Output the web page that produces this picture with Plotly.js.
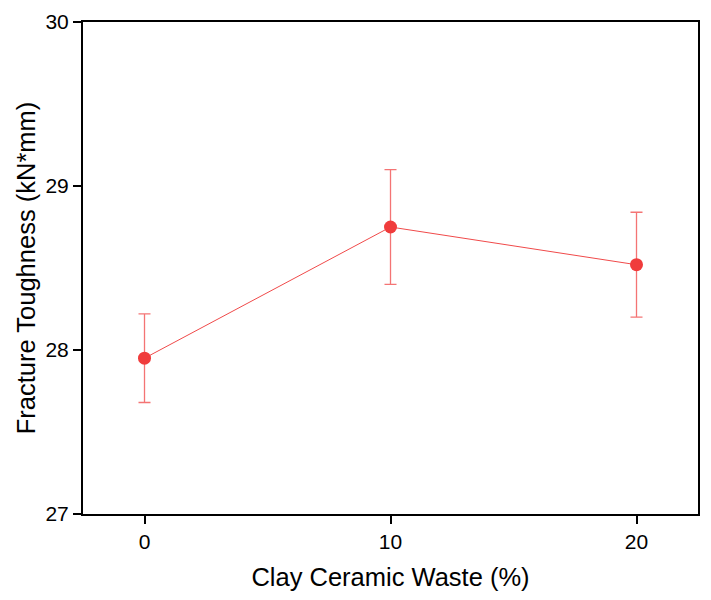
<!DOCTYPE html>
<html>
<head>
<meta charset="utf-8">
<script src="https://cdn.plot.ly/plotly-3.0.1.min.js"></script>
<style>
  html, body { margin: 0; padding: 0; background: #fff; }
  #chart { width: 711px; height: 600px; }
</style>
</head>
<body>
<div id="chart"></div>
<script>
// clay ceramic waste content (%)
const wasteContent = [0, 10, 20];
// fracture toughness (kN*mm), mean and error
const toughness = [27.95, 28.75, 28.52];
const toughnessErr = [0.27, 0.35, 0.32];

const xTicks = [0, 10, 20];
const yTicks = [27, 28, 29, 30];

const trace = {
  x: wasteContent,
  y: toughness,
  type: 'scatter',
  mode: 'lines+markers',
  line: { color: '#f04a4a', width: 1 },
  marker: { color: '#f03c3c', size: 13 },
  error_y: {
    type: 'data',
    array: toughnessErr,
    visible: true,
    color: 'rgba(240,70,70,0.75)',
    thickness: 1.3,
    width: 6
  },
  hoverinfo: 'x+y'
};

const fontFamily = 'Liberation Sans, Arial, sans-serif';
const tickFont = { family: fontFamily, size: 21, color: '#000' };
const titleFont = { family: fontFamily, size: 25.5, color: '#000' };

const layout = {
  width: 711,
  height: 600,
  margin: { l: 83, r: 13, t: 22, b: 86 },
  paper_bgcolor: '#fff',
  plot_bgcolor: '#fff',
  showlegend: false,
  font: tickFont,
  xaxis: {
    range: [-2.5, 22.5],
    tickvals: xTicks,
    ticktext: xTicks.map(String),
    ticks: 'outside',
    ticklen: 8,
    tickwidth: 1.5,
    tickcolor: '#000',
    showline: true,
    linecolor: '#000',
    linewidth: 2,
    mirror: true,
    showgrid: false,
    zeroline: false,
    tickfont: tickFont,
    title: { text: 'Clay Ceramic Waste (%)', font: titleFont, standoff: 16 }
  },
  yaxis: {
    range: [27, 30],
    tickvals: yTicks,
    ticktext: yTicks.map(String),
    ticks: 'outside',
    ticklen: 8,
    tickwidth: 1.5,
    tickcolor: '#000',
    showline: true,
    linecolor: '#000',
    linewidth: 2,
    mirror: true,
    showgrid: false,
    zeroline: false,
    tickfont: tickFont,
    title: { text: 'Fracture Toughness (kN*mm)', font: titleFont, standoff: 3 }
  }
};

Plotly.newPlot('chart', [trace], layout, { displayModeBar: false, responsive: false });
</script>
</body>
</html>
